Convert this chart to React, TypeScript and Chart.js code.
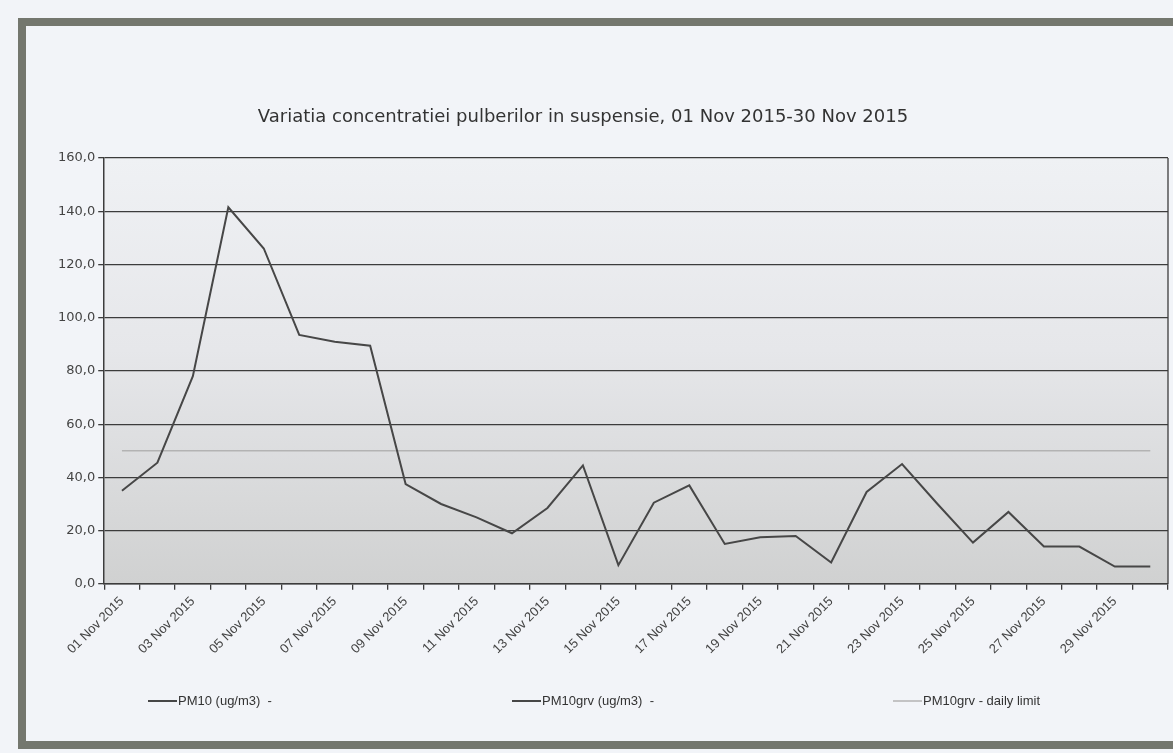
import React, { useEffect, useRef } from "react";
import { Chart, registerables } from "chart.js";

Chart.register(...registerables);

const TITLE = "Variatia concentratiei pulberilor in suspensie, 01 Nov 2015-30 Nov 2015";

const dates = [
  "01 Nov 2015", "02 Nov 2015", "03 Nov 2015", "04 Nov 2015", "05 Nov 2015",
  "06 Nov 2015", "07 Nov 2015", "08 Nov 2015", "09 Nov 2015", "10 Nov 2015",
  "11 Nov 2015", "12 Nov 2015", "13 Nov 2015", "14 Nov 2015", "15 Nov 2015",
  "16 Nov 2015", "17 Nov 2015", "18 Nov 2015", "19 Nov 2015", "20 Nov 2015",
  "21 Nov 2015", "22 Nov 2015", "23 Nov 2015", "24 Nov 2015", "25 Nov 2015",
  "26 Nov 2015", "27 Nov 2015", "28 Nov 2015", "29 Nov 2015", "30 Nov 2015",
];

const pm10 = [
  35, 45.5, 78, 141.5, 126, 93.5, 91, 89.5, 37.5, 30,
  25, 19, 28.5, 44.5, 7, 30.5, 37, 15, 17.5, 18,
  8, 34.5, 45, 30, 15.5, 27, 14, 14, 6.5, 6.5,
];

const pm10grv: (number | null)[] = [];

const dailyLimit = [
  50, 50, 50, 50, 50, 50, 50, 50, 50, 50,
  50, 50, 50, 50, 50, 50, 50, 50, 50, 50,
  50, 50, 50, 50, 50, 50, 50, 50, 50, 50,
];

const legendLabels = ["PM10 (ug/m3)  -", "PM10grv (ug/m3)  -", "PM10grv - daily limit"];

const yTicksMin = 0;
const yTicksMax = 160;
const yStep = 20;

const plotBgPlugin = {
  id: "plotBg",
  beforeDraw(chart: any) {
    const { ctx, chartArea } = chart;
    if (!chartArea) return;
    const g = ctx.createLinearGradient(0, chartArea.top, 0, chartArea.bottom);
    g.addColorStop(0, "#eff1f4");
    g.addColorStop(0.45, "#e6e7ea");
    g.addColorStop(1, "#d0d1d1");
    ctx.save();
    ctx.fillStyle = g;
    ctx.fillRect(chartArea.left, chartArea.top, chartArea.right - chartArea.left, chartArea.bottom - chartArea.top);
    ctx.restore();
  },
  afterDraw(chart: any) {
    const { ctx, chartArea } = chart;
    ctx.save();
    ctx.strokeStyle = "#3c3c3c";
    ctx.lineWidth = 1.3;
    ctx.beginPath();
    ctx.moveTo(chartArea.right, chartArea.top);
    ctx.lineTo(chartArea.right, chartArea.bottom);
    ctx.stroke();
    ctx.restore();
  },
};

const fixedTitlePlugin = {
  id: "fixedTitle",
  afterDraw(chart: any, _args: any, opts: any) {
    const { ctx } = chart;
    ctx.save();
    ctx.font = opts.font;
    ctx.fillStyle = opts.color;
    ctx.textAlign = "center";
    ctx.textBaseline = "middle";
    ctx.fillText(opts.text, opts.x, opts.y);
    ctx.restore();
  },
};

const spreadLegendPlugin = {
  id: "spreadLegend",
  afterDraw(chart: any, _args: any, opts: any) {
    const { ctx } = chart;
    ctx.save();
    ctx.font = opts.font;
    ctx.textBaseline = "middle";
    chart.data.datasets.forEach((ds: any, i: number) => {
      const x = opts.positions[i];
      const y = opts.y;
      ctx.strokeStyle = ds.borderColor;
      ctx.lineWidth = ds.borderWidth;
      ctx.beginPath();
      ctx.moveTo(x, y);
      ctx.lineTo(x + opts.lineLength, y);
      ctx.stroke();
      ctx.fillStyle = opts.color;
      ctx.fillText(legendLabels[i], x + opts.lineLength + 1, y);
    });
    ctx.restore();
  },
};

export default function App() {
  const canvasRef = useRef<HTMLCanvasElement | null>(null);

  useEffect(() => {
    document.documentElement.style.background = "#f2f4f8";
    document.body.style.overflow = "hidden";
    const canvas = canvasRef.current;
    if (!canvas) return;
    const chart = new Chart(canvas, {
      type: "line",
      data: {
        labels: dates,
        datasets: [
          {
            label: legendLabels[0],
            data: pm10,
            borderColor: "#474747",
            borderWidth: 2,
            pointRadius: 0,
            tension: 0,
            order: 1,
          },
          {
            label: legendLabels[1],
            data: pm10grv,
            borderColor: "#474747",
            borderWidth: 2,
            pointRadius: 0,
            tension: 0,
            order: 2,
          },
          {
            label: legendLabels[2],
            data: dailyLimit,
            borderColor: "#b3b3b3",
            borderWidth: 1.5,
            pointRadius: 0,
            tension: 0,
            order: 3,
          },
        ],
      },
      options: {
        animation: false,
        responsive: false,
        layout: { padding: { left: 55, right: 5, top: 158, bottom: 92 } },
        plugins: {
          legend: { display: false },
          tooltip: { enabled: false },
          title: { display: false },
          fixedTitle: {
            text: TITLE,
            x: 583,
            y: 117,
            font: "18px 'DejaVu Sans', Verdana, sans-serif",
            color: "#333333",
          },
          spreadLegend: {
            positions: [148, 512, 893],
            y: 701,
            lineLength: 29,
            font: "13px 'Liberation Sans', Arial, sans-serif",
            color: "#333333",
          },
        } as any,
        scales: {
          x: {
            offset: true,
            grid: {
              offset: true,
              drawOnChartArea: false,
              drawTicks: true,
              tickLength: 6,
              color: "#3c3c3c",
              lineWidth: 1.3,
            },
            border: { display: true, color: "#3c3c3c", width: 1.5 },
            ticks: {
              autoSkip: false,
              maxRotation: 45,
              minRotation: 45,
              padding: 4,
              color: "#444444",
              font: { family: "'Liberation Sans', Arial, sans-serif", size: 13 },
              callback: (_v: any, idx: number) => (idx % 2 === 0 ? dates[idx] : ""),
            },
          },
          y: {
            min: yTicksMin,
            max: yTicksMax,
            grid: {
              color: "#3c3c3c",
              lineWidth: 1.3,
              drawTicks: true,
              tickLength: 6,
            },
            border: { display: true, color: "#3c3c3c", width: 1.5 },
            ticks: {
              stepSize: yStep,
              padding: 3,
              color: "#444444",
              font: { family: "'DejaVu Sans', Verdana, sans-serif", size: 13 },
              callback: (v: any) => Number(v).toFixed(1).replace(".", ","),
            },
          },
        },
      },
      plugins: [plotBgPlugin, fixedTitlePlugin, spreadLegendPlugin],
    });
    return () => chart.destroy();
  }, []);

  return (
    <div style={{ position: "fixed", left: 0, top: 0, width: 1173, height: 753, overflow: "hidden", background: "#f2f4f8" }}>
      <div
        style={{
          position: "absolute",
          left: 18,
          top: 18,
          width: 1173,
          height: 731,
          boxSizing: "border-box",
          borderLeft: "8px solid #74776e",
          borderTop: "8px solid #74776e",
          borderBottom: "8px solid #74776e",
        }}
      />
      <canvas ref={canvasRef} width={1173} height={753} style={{ position: "absolute", left: 0, top: 0 }} />
    </div>
  );
}
